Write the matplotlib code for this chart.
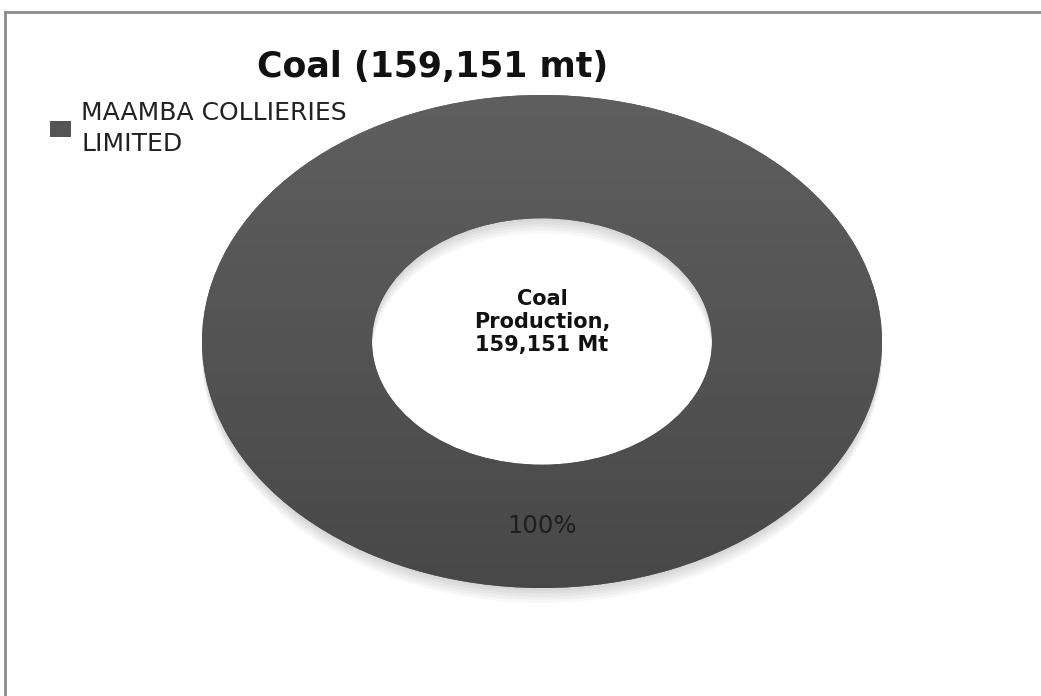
import matplotlib.pyplot as plt
import numpy as np
from matplotlib.colors import LinearSegmentedColormap
from matplotlib.lines import Line2D
from matplotlib.patches import Wedge

# data
companies = ['MAAMBA COLLIERIES\nLIMITED']
production = [159151]
title = 'Coal (159,151 mt)'
centre_label = 'Coal\nProduction,\n159,151 Mt'

W, H = 1041, 696
fig = plt.figure(figsize=(W / 100, H / 100), dpi=100)
fig.patch.set_facecolor('white')

# axes placed so that the unit circle maps onto the ellipse in the picture
cx, cy = 542, 341.5      # pixel centre (top origin)
rx, ry = 340, 246.5      # pixel radii
L = 1.15
ax = fig.add_axes([(cx - L * rx) / W, (H - cy - L * ry) / H,
                   2 * L * rx / W, 2 * L * ry / H])

wedges, texts, autotexts = ax.pie(production, labels=None, colors=['#555555'],
                                  radius=1.0, startangle=90, counterclock=False,
                                  autopct='%1.0f%%', pctdistance=0.75,
                                  wedgeprops=dict(width=0.5, linewidth=0),
                                  textprops=dict(family='DejaVu Sans', fontsize=17.5,
                                                 color='#1e1e1e'))
ax.set_aspect('auto')
ax.set_xlim(-L, L)
ax.set_ylim(-L, L)

# soft shadow under the ring
for i in range(1, 6):
    sh = Wedge((0, -0.012 * i), 1.0, 0, 360, width=0.5,
               facecolor='black', alpha=0.03, linewidth=0, zorder=0)
    ax.add_patch(sh)

# vertical shading of the ring
grad = np.linspace(0, 1, 256).reshape(-1, 1)
cmap = LinearSegmentedColormap.from_list('ring', ['#484848', '#5f5f5f'])
img = ax.imshow(grad, extent=[-1, 1, -1, 1], origin='lower', cmap=cmap,
                aspect='auto', zorder=1.5)
img.set_clip_path(wedges[0])
wedges[0].set_zorder(1)

for t in autotexts:
    t.set_zorder(3)
    t.set_position((0, -0.75))

ax.text(0, 0.08, centre_label, ha='center', va='center', fontsize=15,
        fontweight='bold', family='DejaVu Sans', color='#111111',
        linespacing=1.2, zorder=3)

fig.text(433 / W, 1 - 67 / H, title, ha='center', va='center',
         fontsize=25, fontweight='bold', family='DejaVu Sans', color='#111111')

leg = fig.legend([wedges[0]], companies, loc='upper left',
                 bbox_to_anchor=(50 / W, 1 - 101 / H), frameon=False,
                 prop=dict(family='DejaVu Sans', size=18), handlelength=0.85,
                 handleheight=0.55, handletextpad=0.4, borderpad=0,
                 borderaxespad=0, labelspacing=0)
for t in leg.get_texts():
    t.set_color('#222222')
    t.set_linespacing(1.35)

# chart frame (only top and left edges are visible)
fig.add_artist(Line2D([5 / W, 5 / W], [0, 1 - 12 / H], transform=fig.transFigure,
                      color='#8c8c8c', linewidth=2))
fig.add_artist(Line2D([5 / W, 1], [1 - 12 / H, 1 - 12 / H], transform=fig.transFigure,
                      color='#8c8c8c', linewidth=2))

fig.savefig('out.png', dpi=100)
